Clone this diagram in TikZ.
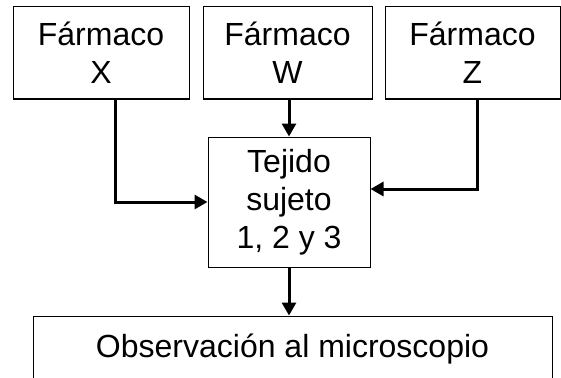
\documentclass[tikz,border=0pt]{standalone}
\usepackage{fontspec}
\setmainfont{Liberation Sans}
\usetikzlibrary{arrows.meta,positioning}
\tikzset{caja/.style={draw,line width=1pt,align=center,inner sep=0pt,
    font=\fontsize{32}{38}\selectfont},
  flujo/.style={line width=3pt,-{Triangle[width=14pt,length=13pt]}}}

\begin{document}
\begin{tikzpicture}[x=1pt,y=-1pt]
  \clip (0,0) rectangle (561,377);

  % farmacos
  \node [caja,minimum width=176pt,minimum height=92pt] (fx) at (101,53) {Fármaco\\X};
  \node [caja,minimum width=169pt,minimum height=92pt] (fw) at (287.5,53) {Fármaco\\W};
  \node [caja,minimum width=175pt,minimum height=92pt] (fz) at (472.5,53) {Fármaco\\Z};

  % tejido
  \node [caja,minimum width=162pt,minimum height=130pt] (tej) at (289,202) {Tejido\\sujeto\\1, 2 y 3};

  % observacion
  \node [caja,minimum width=519pt,minimum height=66pt] (obs) at (292.5,349) {Observación al microscopio};

  \draw [flujo] ([xshift=14pt]fx.south) |- (tej.west);
  \draw [flujo] (fw.south -| tej.north) -- (tej.north);
  \draw [flujo] ([xshift=5pt]fz.south) |- ([yshift=13pt]tej.east);
  \draw [flujo] (tej.south) -- (tej.south |- obs.north);

\end{tikzpicture}
\end{document}
